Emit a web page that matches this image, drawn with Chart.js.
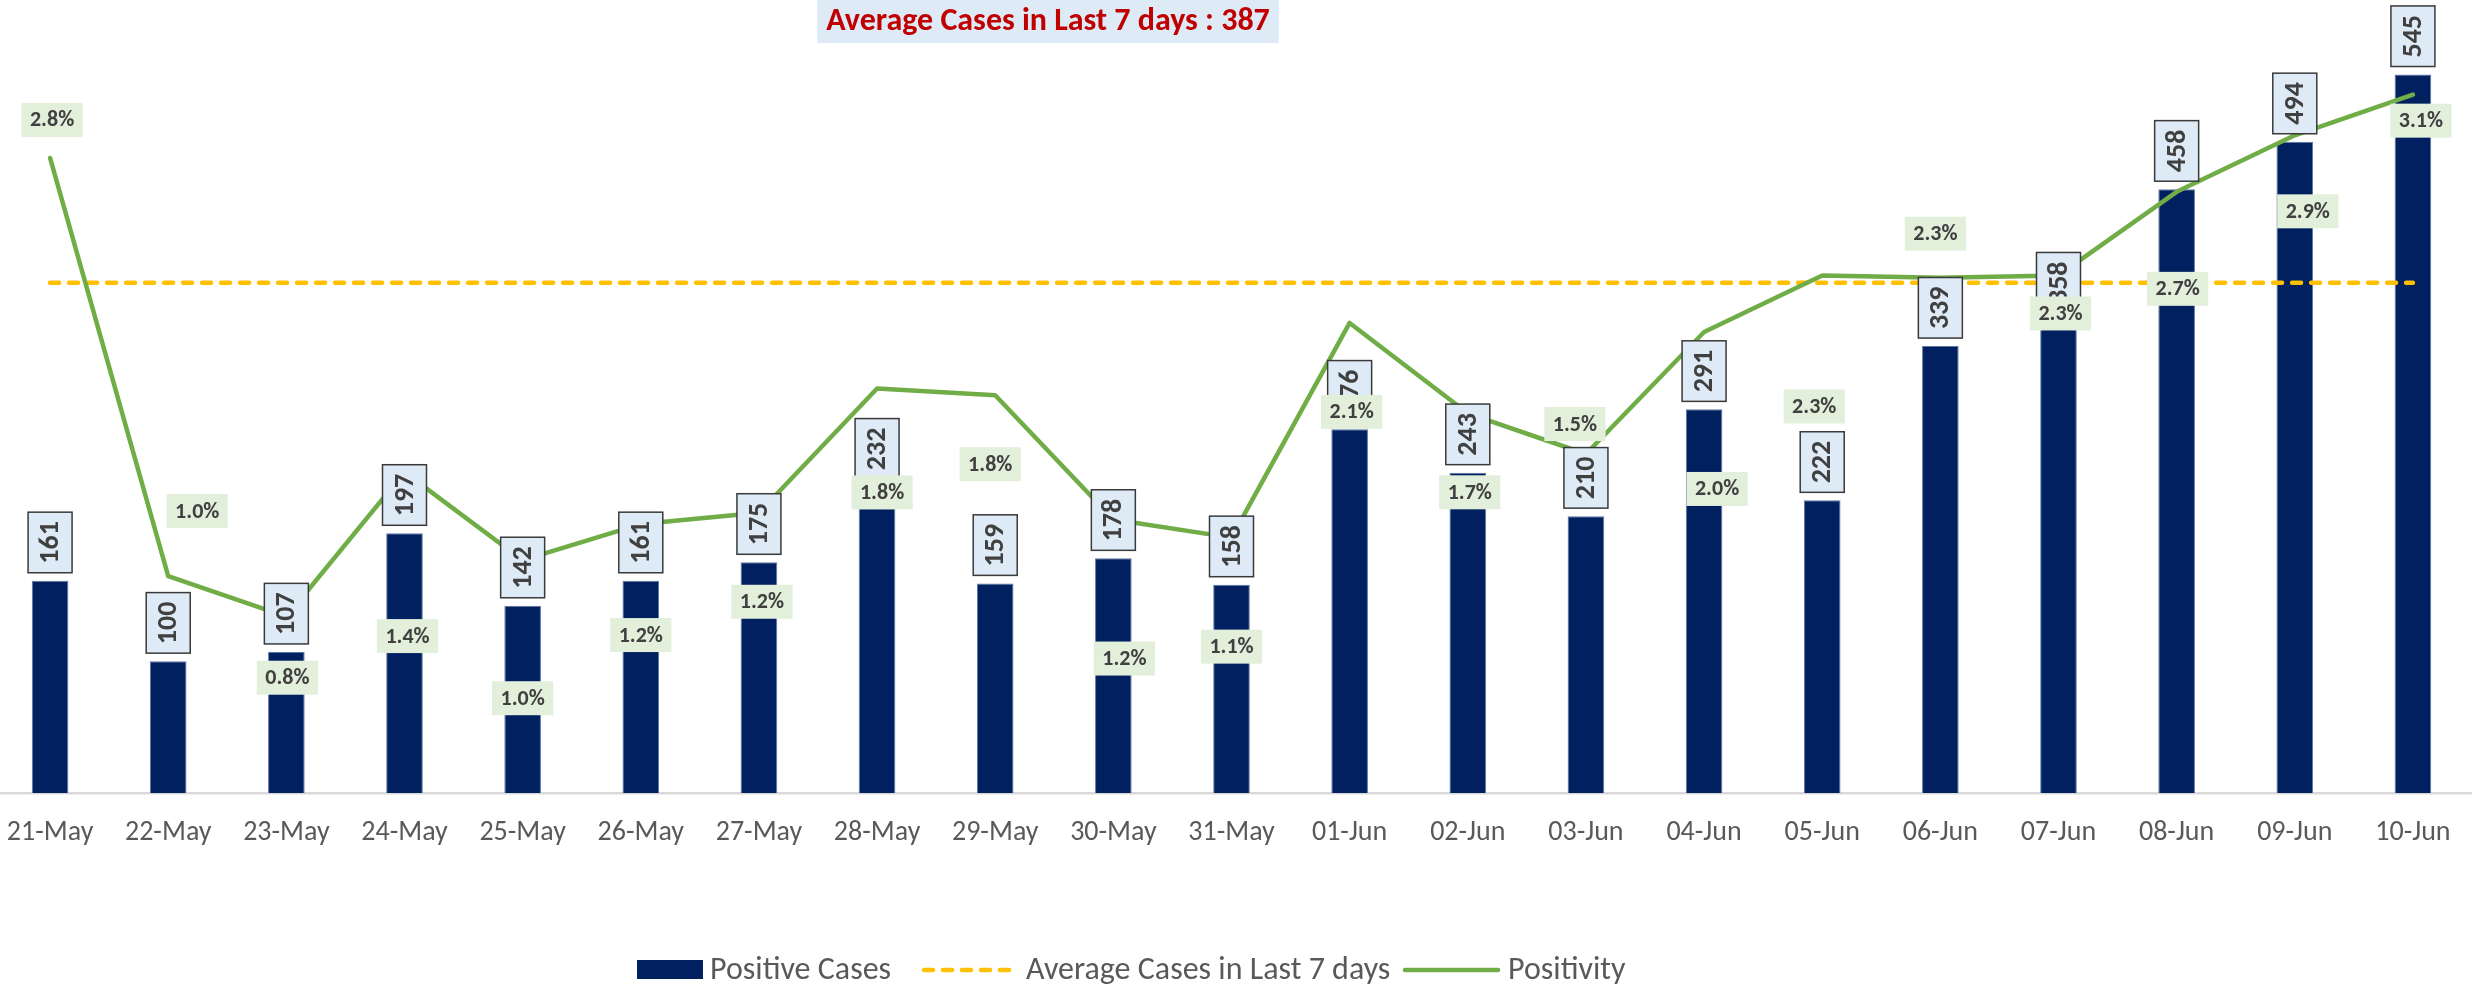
<!DOCTYPE html>
<html>
<head>
<meta charset="utf-8">
<title>Positive Cases and Positivity</title>
<script src="https://cdn.jsdelivr.net/npm/chart.js@4.4.1/dist/chart.umd.min.js"></script>
<style>
    html, body { margin: 0; padding: 0; background: #ffffff; overflow: hidden; }
    #page { position: relative; width: 2478px; height: 988px; overflow: hidden; }
    /* plot area in the sheet starts a few px left of the picture edge */
    #wrap { position: absolute; left: -9px; top: 0; width: 2481px; height: 988px; }
</style>
</head>
<body>
<div id="page"><div id="wrap"><canvas id="casesChart"></canvas></div></div>
<script>
const dates = ['21-May', '22-May', '23-May', '24-May', '25-May', '26-May', '27-May', '28-May', '29-May', '30-May', '31-May',
    '01-Jun', '02-Jun', '03-Jun', '04-Jun', '05-Jun', '06-Jun', '07-Jun', '08-Jun', '09-Jun', '10-Jun'];
const positiveCases = [161, 100, 107, 197, 142, 161, 175, 232, 159, 178, 158, 276, 243, 210, 291, 222, 339, 358, 458, 494, 545];
const avgLast7Days = 387;
const positivity = [2.81, 0.96, 0.78, 1.42, 1.03, 1.19, 1.24, 1.79, 1.76, 1.21, 1.13, 2.08, 1.68, 1.50, 2.04, 2.29, 2.28, 2.29, 2.66, 2.91, 3.09];

// the % tags were dragged around by hand in the sheet, so keep their nudges (px from the point)
const tagDx = [2, 29, 1, 3, 0, 0, 3, 5, -5, 11, 0, 2, 2, -11, 13, -8, -5, 2, 1, 13, 8];
const tagDy = [-38, -65, 61, 164, 138, 111, 89, 104, 69, 139, 109, 89, 79, -30, 157, 131, -44, 38, 97, 76, 26];

const FONT = 'Carlito, Calibri, Lato, sans-serif';
const NAVY = '#002060';
const GOLD = '#FFC000';
const GREEN = '#70AD47';
const SHIFT = 9; // canvas is moved left by this much

const boxLabels = {
    id: 'boxLabels',
    afterDatasetsDraw(chart) {
        const ctx = chart.ctx;
        const bars = chart.getDatasetMeta(0).data;
        const pts = chart.getDatasetMeta(2).data;
        ctx.save();

        // value boxes above the bars, text turned on its side
        ctx.font = 'bold 28px ' + FONT;
        bars.forEach((bar, i) => {
            const txt = String(positiveCases[i]);
            const tw = ctx.measureText(txt).width;
            const w = 44, h = tw + 18;
            const x = bar.x - w / 2, y = bar.y - 8 - h;
            ctx.fillStyle = '#DEEBF7';
            ctx.fillRect(x, y, w, h);
            ctx.strokeStyle = '#3a3a3a';
            ctx.lineWidth = 1.5;
            ctx.strokeRect(x, y, w, h);
            ctx.save();
            ctx.translate(bar.x, y + h / 2);
            ctx.rotate(-Math.PI / 2);
            ctx.fillStyle = '#404040';
            ctx.textAlign = 'center';
            ctx.textBaseline = 'middle';
            ctx.fillText(txt, 0, 1);
            ctx.restore();
        });

        // positivity tags
        ctx.font = 'bold 22px ' + FONT;
        pts.forEach((pt, i) => {
            const txt = positivity[i].toFixed(1) + '%';
            const tw = ctx.measureText(txt).width;
            const w = tw + 17, h = 34;
            const cx = pt.x + tagDx[i], cy = pt.y + tagDy[i];
            ctx.fillStyle = '#E2EFDA';
            ctx.fillRect(cx - w / 2, cy - h / 2, w, h);
            ctx.fillStyle = '#404040';
            ctx.textAlign = 'center';
            ctx.textBaseline = 'middle';
            ctx.fillText(txt, cx, cy + 1);
        });
        ctx.restore();
    },
    afterDraw(chart) {
        const ctx = chart.ctx;
        ctx.save();
        ctx.translate(SHIFT, 0);

        // headline box
        const title = 'Average Cases in Last 7 days : ' + avgLast7Days;
        ctx.font = 'bold 32px ' + FONT;
        const tw = ctx.measureText(title).width;
        const bw = tw + 18;
        ctx.fillStyle = '#DEEBF7';
        ctx.fillRect(1048 - bw / 2, 0, bw, 43);
        ctx.fillStyle = '#C00000';
        ctx.textAlign = 'center';
        ctx.textBaseline = 'middle';
        ctx.fillText(title, 1048, 22);

        // legend
        const ly = 970;
        const names = chart.data.datasets.map(d => d.label);
        const starts = [637, 921, 1402];
        const widths = [66, 98, 99];
        ctx.font = '32px ' + FONT;
        ctx.textAlign = 'left';
        ctx.fillStyle = NAVY;
        ctx.fillRect(starts[0], ly - 10, widths[0], 19);

        ctx.lineCap = 'round';
        ctx.lineWidth = 4.5;
        ctx.strokeStyle = GOLD;
        ctx.setLineDash([9, 10]);
        ctx.beginPath();
        ctx.moveTo(starts[1] + 3, ly);
        ctx.lineTo(starts[1] + widths[1] - 3, ly);
        ctx.stroke();

        ctx.setLineDash([]);
        ctx.strokeStyle = GREEN;
        ctx.beginPath();
        ctx.moveTo(starts[2] + 3, ly);
        ctx.lineTo(starts[2] + widths[2] - 3, ly);
        ctx.stroke();

        ctx.fillStyle = '#595959';
        names.forEach((n, i) => {
            ctx.fillText(n, starts[i] + widths[i] + 7, ly + 1);
        });
        ctx.restore();
    }
};

const chart = new Chart(document.getElementById('casesChart'), {
    type: 'bar',
    data: {
        labels: dates,
        datasets: [{
            label: 'Positive Cases',
            data: positiveCases,
            backgroundColor: NAVY,
            borderColor: '#5d77a3',
            borderWidth: 1,
            barPercentage: 0.31,
            categoryPercentage: 1,
            yAxisID: 'y',
            order: 3
        }, {
            type: 'line',
            label: 'Average Cases in Last 7 days',
            data: dates.map(() => avgLast7Days),
            borderColor: GOLD,
            borderWidth: 4.5,
            borderDash: [9, 10],
            borderCapStyle: 'round',
            pointRadius: 0,
            fill: false,
            yAxisID: 'y',
            order: 2
        }, {
            type: 'line',
            label: 'Positivity',
            data: positivity,
            borderColor: GREEN,
            borderWidth: 4.5,
            borderJoinStyle: 'round',
            borderCapStyle: 'round',
            pointRadius: 0,
            tension: 0,
            fill: false,
            yAxisID: 'y1',
            order: 1
        }]
    },
    plugins: [boxLabels],
    options: {
        responsive: true,
        maintainAspectRatio: false,
        animation: false,
        layout: {
            padding: {left: 0, right: 0, top: 2, bottom: 135}
        },
        plugins: {
            legend: {display: false},
            tooltip: {enabled: false},
            title: {display: false}
        },
        scales: {
            x: {
                offset: true,
                grid: {display: false, drawTicks: false},
                border: {display: true, color: '#D9D9D9', width: 2.5},
                ticks: {
                    color: '#595959',
                    font: {family: FONT, size: 28},
                    padding: 23,
                    maxRotation: 0,
                    autoSkip: false
                },
                afterFit(scale) {
                    // labels fit inside their slots, no side padding wanted
                    scale.height = 60;
                    scale.paddingLeft = 0;
                    scale.paddingRight = 0;
                }
            },
            y: {display: false, min: 0, max: 600},
            y1: {display: false, position: 'right', min: 0, max: 3.5}
        }
    }
});
</script>
</body>
</html>
